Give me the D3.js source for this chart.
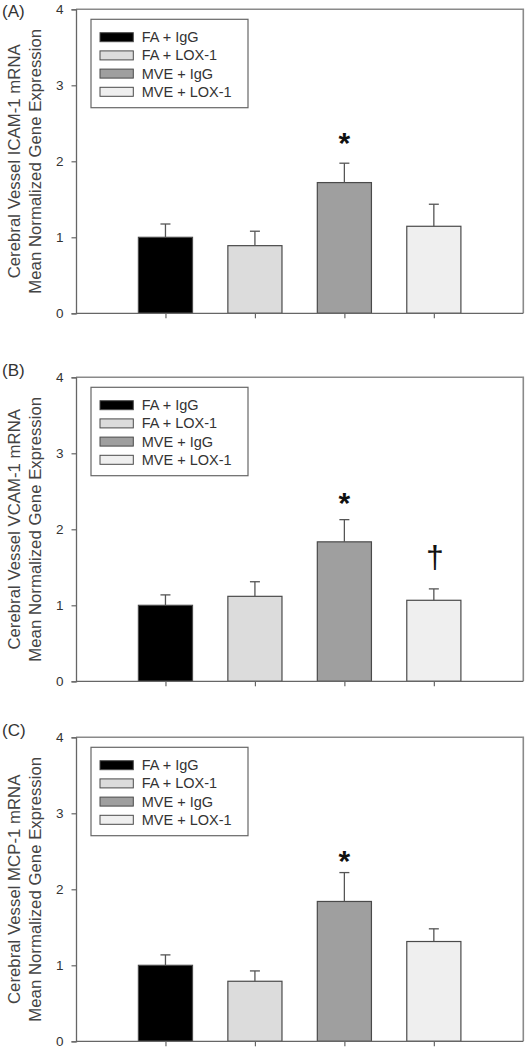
<!DOCTYPE html>
<html>
<head>
<meta charset="utf-8">
<script src="https://cdn.jsdelivr.net/npm/d3@7"></script>
<style>
  html, body { margin: 0; padding: 0; background: #fff; }
  svg { display: block; }
  text { font-family: "Liberation Sans", Arial, Helvetica, sans-serif; }
</style>
</head>
<body>
<script>
// ---------------- data ----------------
const groups = ["FA + IgG", "FA + LOX-1", "MVE + IgG", "MVE + LOX-1"];
const yTicks = [0, 1, 2, 3, 4];
const panelLabels = ["(A)", "(B)", "(C)"];
const yTitles = [
  ["Cerebral Vessel ICAM-1 mRNA", "Mean Normalized Gene Expression"],
  ["Cerebral Vessel VCAM-1 mRNA", "Mean Normalized Gene Expression"],
  ["Cerebral Vessel MCP-1 mRNA", "Mean Normalized Gene Expression"]
];
const icamMeans = [1.00, 0.89, 1.72, 1.145];
const icamSem   = [0.175, 0.19, 0.255, 0.29];
const vcamMeans = [1.00, 1.118, 1.835, 1.066];
const vcamSem   = [0.137, 0.192, 0.292, 0.15];
const mcpMeans  = [1.00, 0.79, 1.84, 1.313];
const mcpSem    = [0.137, 0.136, 0.38, 0.167];
// significance marks: group index, symbol, y position (data units)
const icamMarks = [{ g: 2, s: "*", y: 2.33 }];
const vcamMarks = [{ g: 2, s: "*", y: 2.44 }, { g: 3, s: "\u2020", y: 1.61 }];
const mcpMarks  = [{ g: 2, s: "*", y: 2.46 }];

// ---------------- style ----------------
const fills = ["#000000", "#dcdcdc", "#9f9f9f", "#efefef"];
const W = 529, H = 1050;
const panelTops = [9.3, 377.3, 737.3];
const plotH = 304;
const x0 = 76, x1 = 523.3;

const panels = [
  { means: icamMeans, sem: icamSem, marks: icamMarks },
  { means: vcamMeans, sem: vcamSem, marks: vcamMarks },
  { means: mcpMeans,  sem: mcpSem,  marks: mcpMarks }
];

const svg = d3.select("body").append("svg").attr("width", W).attr("height", H);

const x = d3.scaleLinear().domain([0, groups.length + 1]).range([x0, x1]);
const barW = (x(1) - x(0)) * 0.605;

panels.forEach((p, pi) => {
  const top = panelTops[pi];
  const y = d3.scaleLinear().domain([0, 4]).range([top + plotH, top]);
  const g = svg.append("g");

  // frame top & right
  g.append("path")
    .attr("d", `M${x0},${top}H${x1}V${top + plotH}`)
    .attr("fill", "none").attr("stroke", "#8a8a8a").attr("stroke-width", 1.6);

  // bars
  g.selectAll("rect.bar").data(p.means).join("rect")
    .attr("class", "bar")
    .attr("x", (d, i) => x(i + 1) - barW / 2)
    .attr("y", d => y(d))
    .attr("width", barW)
    .attr("height", d => y(0) - y(d))
    .attr("fill", (d, i) => fills[i])
    .attr("stroke", "#4a4a4a").attr("stroke-width", 1.2);

  // error bars (upper)
  const eb = g.selectAll("g.eb").data(p.means).join("g").attr("class", "eb");
  eb.append("line")
    .attr("x1", (d, i) => x(i + 1)).attr("x2", (d, i) => x(i + 1))
    .attr("y1", d => y(d)).attr("y2", (d, i) => y(d + p.sem[i]))
    .attr("stroke", "#555").attr("stroke-width", 1.3);
  eb.append("line")
    .attr("x1", (d, i) => x(i + 1) - 5).attr("x2", (d, i) => x(i + 1) + 5)
    .attr("y1", (d, i) => y(d + p.sem[i])).attr("y2", (d, i) => y(d + p.sem[i]))
    .attr("stroke", "#555").attr("stroke-width", 1.3);

  // y axis
  const ya = g.append("g").attr("transform", `translate(${x0},0)`)
    .call(d3.axisLeft(y).tickValues(yTicks).tickSize(4.5).tickPadding(8).tickFormat(d3.format("d")));
  ya.select(".domain").attr("stroke", "#666").attr("stroke-width", 1.3);
  ya.selectAll(".tick line").attr("stroke", "#666").attr("stroke-width", 1.2);
  ya.selectAll(".tick text").attr("font-size", 13.5).attr("fill", "#333")
    .style("font-family", "'Liberation Sans', Arial, sans-serif");

  // x axis
  const xa = g.append("g").attr("transform", `translate(0,${top + plotH})`)
    .call(d3.axisBottom(x).tickValues(groups.map((d, i) => i + 1)).tickSize(5).tickFormat(""));
  xa.select(".domain").attr("stroke", "#666").attr("stroke-width", 1.3)
    .attr("d", `M${x0},0H${x1}`);
  xa.selectAll(".tick line").attr("stroke", "#666").attr("stroke-width", 1.2);

  // significance marks
  g.selectAll("text.mark").data(p.marks).join("text")
    .attr("class", "mark")
    .attr("x", d => x(d.g + 1) + (d.s === "*" ? 0 : 1))
    .attr("y", d => y(d.y) + (d.s === "*" ? 17 : 9))
    .attr("text-anchor", "middle")
    .attr("font-size", d => d.s === "*" ? 30 : 32)
    .attr("font-weight", d => d.s === "*" ? "bold" : "normal")
    .attr("fill", "#111")
    .text(d => d.s);

  // legend
  const lg = g.append("g");
  lg.append("rect")
    .attr("x", 91).attr("y", top + 10).attr("width", 157).attr("height", 88.4)
    .attr("fill", "#fff").attr("stroke", "#666").attr("stroke-width", 1.2);
  const rows = lg.selectAll("g.row").data(groups).join("g").attr("class", "row")
    .attr("transform", (d, i) => `translate(0,${top + 27.9 + i * 18.2})`);
  rows.append("rect")
    .attr("x", 100).attr("y", -4.5).attr("width", 33.3).attr("height", 9)
    .attr("fill", (d, i) => fills[i]).attr("stroke", "#4a4a4a").attr("stroke-width", 1);
  rows.append("text")
    .attr("x", 141.7).attr("y", 5)
    .attr("font-size", 14.5).attr("fill", "#333")
    .text(d => d);

  // y title
  const cy = top + plotH / 2;
  const tt = g.append("text")
    .attr("transform", `translate(0,${cy}) rotate(-90)`)
    .attr("text-anchor", "middle").attr("font-size", 16.8).attr("fill", "#444");
  tt.append("tspan").attr("x", 0).attr("y", 19.5).text(yTitles[pi][0]);
  tt.append("tspan").attr("x", 0).attr("y", 40.5).text(yTitles[pi][1]);

  // panel label
  g.append("text")
    .attr("x", 2).attr("y", pi === 0 ? 17 : top - 1)
    .attr("font-size", 17).attr("fill", "#333")
    .text(panelLabels[pi]);
});
</script>
</body>
</html>
